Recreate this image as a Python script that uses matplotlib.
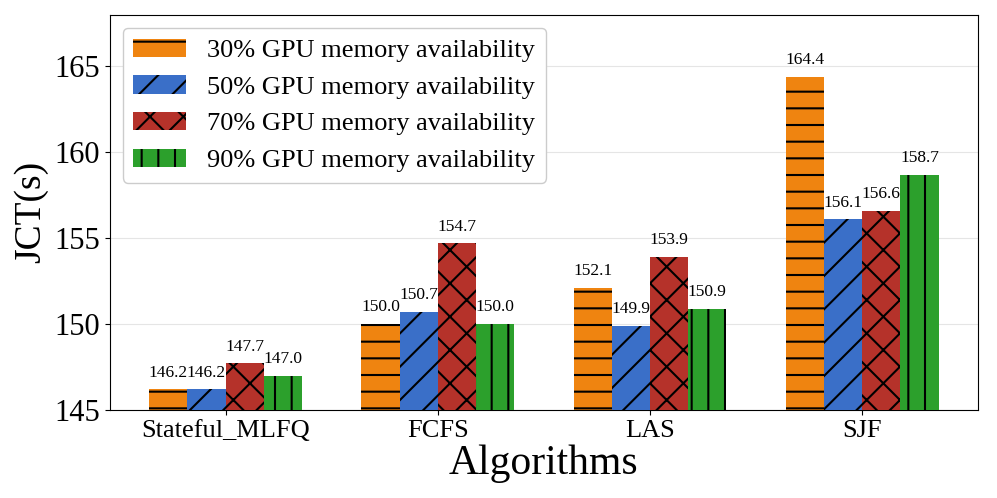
import numpy as np
import matplotlib
matplotlib.use("Agg")
import matplotlib.pyplot as plt

plt.rcParams["font.family"] = "Liberation Serif"
plt.rcParams["hatch.linewidth"] = 1.5

algorithms = ["Stateful_MLFQ", "FCFS", "LAS", "SJF"]
labels = ["30% GPU memory availability", "50% GPU memory availability",
          "70% GPU memory availability", "90% GPU memory availability"]
jct_30 = [146.2, 150.0, 152.1, 164.4]
jct_50 = [146.2, 150.7, 149.9, 156.1]
jct_70 = [147.7, 154.7, 153.9, 156.6]
jct_90 = [147.0, 150.0, 150.9, 158.7]

colors = ["#ef8410", "#3a6fc8", "#b5322a", "#2ca02c"]
hatches = ["-", "/", "x", "|"]

fig = plt.figure(figsize=(9.97, 4.98), dpi=100)
ax = fig.add_axes([0.110, 0.177, 0.871, 0.793])

index = np.arange(len(algorithms))
bar_width = 0.18
series = [jct_30, jct_50, jct_70, jct_90]

for j, vals in enumerate(series):
    pos = index + (j - 1.5) * bar_width
    bars = ax.bar(pos, vals, bar_width, color=colors[j], hatch=hatches[j],
                  edgecolor="black", linewidth=0, label=labels[j], zorder=3)
    for b, v in zip(bars, vals):
        ax.text(b.get_x() + b.get_width() / 2, v + 0.5, f"{v:.1f}",
                ha="center", va="bottom", fontsize=12.5)

ax.set_ylim(145, 168)
ax.set_yticks([145, 150, 155, 160, 165])
ax.set_xticks(index)
ax.set_xticklabels(algorithms, fontsize=19)
ax.tick_params(axis="y", labelsize=22)
ax.set_xlabel("Algorithms", fontsize=30, labelpad=2)
ax.set_ylabel("JCT(s)", fontsize=27)
ax.yaxis.grid(True, color="#e5e5e5", zorder=0)
ax.set_axisbelow(True)

ax.legend(loc="upper left", fontsize=19, framealpha=1, edgecolor="#cccccc",
          handlelength=2.0, labelspacing=0.5, borderaxespad=0.5)

plt.savefig("out.png", dpi=100)
